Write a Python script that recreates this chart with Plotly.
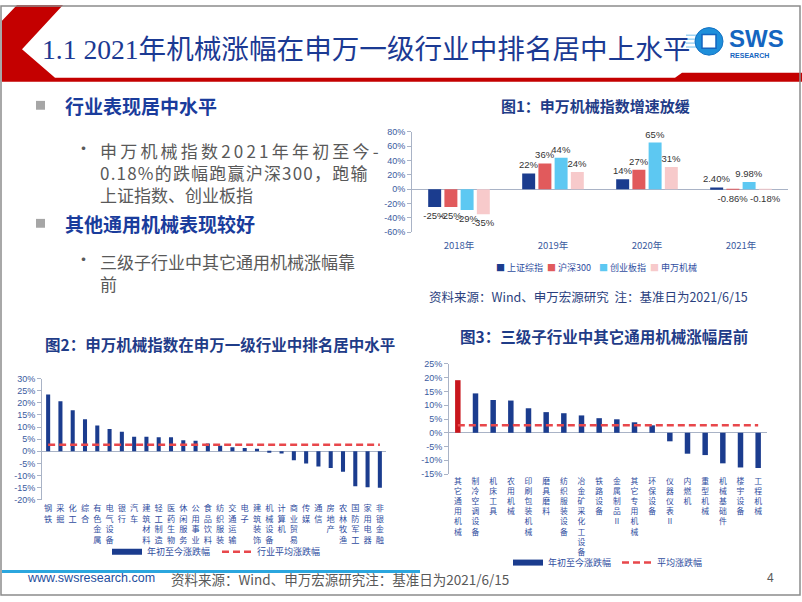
import plotly.graph_objects as go

W, H = 802, 602
def X(v):
    return v / W
def Y(v):
    return 1 - v / H

FONT = "Noto Sans CJK SC, Liberation Sans, Arial, sans-serif"
NUMFONT = "Liberation Sans, Noto Sans CJK SC, Arial, sans-serif"

# ---------------- Figure 1 data ----------------
years = ["2018年", "2019年", "2020年", "2021年"]
series_names = ["上证综指", "沪深300", "创业板指", "申万机械"]
szzz = [-25, 22, 14, 2.40]
hs300 = [-25, 36, 27, -0.86]
cybz = [-29, 44, 65, 9.98]
swjx = [-35, 24, 31, -0.18]
szzz_lbl = ["-25%", "22%", "14%", "2.40%"]
hs300_lbl = ["-25%", "36%", "27%", "-0.86%"]
cybz_lbl = ["-29%", "44%", "65%", "9.98%"]
swjx_lbl = ["-35%", "24%", "31%", "-0.18%"]
ticks1 = [-60, -40, -20, 0, 20, 40, 60, 80]

# ---------------- Figure 2 data ----------------
industries = ["钢铁", "采掘", "化工", "综合", "有色金属", "电气设备", "银行", "汽车",
              "建筑材料", "轻工制造", "医药生物", "休闲服务", "公用事业", "食品饮料",
              "纺织服装", "交通运输", "电子", "建筑装饰", "机械设备", "计算机",
              "商业贸易", "传媒", "通信", "房地产", "农林牧渔", "国防军工", "家用电器", "非银金融"]
ind_change = [23.5, 20.7, 17.0, 13.2, 10.6, 9.2, 8.1, 6.0,
              6.0, 5.8, 5.8, 4.6, 4.3, 3.2,
              2.3, 1.7, 1.4, 1.0, -0.18, -0.9,
              -3.7, -5.1, -6.3, -6.9, -8.5, -14.5, -14.9, -15.1]
ind_avg = 2.7
ticks2 = [-20, -15, -10, -5, 0, 5, 10, 15, 20, 25, 30]

# ---------------- Figure 3 data ----------------
subinds = ["其它通用机械", "制冷空调设备", "机床工具", "农用机械", "印刷包装机械", "磨具磨料",
           "纺织服装设备", "冶金矿采化工设备", "铁路设备", "金属制品Ⅱ", "其它专用机械", "环保设备",
           "仪器仪表Ⅱ", "内燃机", "重型机械", "机械基础件", "楼宇设备", "工程机械"]
sub_change = [19.1, 14.3, 11.9, 11.7, 8.9, 7.5,
              7.1, 6.3, 5.3, 4.9, 3.8, 2.7,
              -3.1, -7.6, -8.1, -11.1, -12.6, -12.8]
sub_avg = 2.7
ticks3 = [-15, -10, -5, 0, 5, 10, 15, 20, 25]

NAVY = "#1B3C8E"
RED_BAR = "#C8161D"
AVG_RED = "#E8474B"
TICKBLUE = "#3B5BA0"
LABELBLUE = "#2F4DA0"
AXIS = "#A9B3C6"
TITLEBLUE = "#1F3C88"

fig = go.Figure()

# ---- Figure 1 bars
c1 = [NAVY, "#E15A5C", "#5DC8F2", "#F7CACB"]
for name, vals, lbls, col in zip(series_names, [szzz, hs300, cybz, swjx],
                                 [szzz_lbl, hs300_lbl, cybz_lbl, swjx_lbl], c1):
    fig.add_trace(go.Bar(
        x=years, y=vals, name=name, text=lbls, textposition="outside",
        textfont=dict(size=9.5, color="#333333", family=NUMFONT),
        constraintext="none", cliponaxis=False,
        marker=dict(color=col, line=dict(width=0)),
        xaxis="x", yaxis="y", showlegend=False, hoverinfo="x+y"))

# ---- Figure 2
fig.add_trace(go.Bar(x=industries, y=ind_change, width=0.33, marker=dict(color=NAVY, line=dict(width=0)),
                     xaxis="x2", yaxis="y2", showlegend=False, name="年初至今涨跌幅"))
fig.add_trace(go.Scatter(x=industries, y=[ind_avg] * len(industries), mode="lines",
                         line=dict(color=AVG_RED, width=2.5, dash="7px,4px"),
                         xaxis="x2", yaxis="y2", name="行业平均涨跌幅", legend="legend2"))
fig.add_trace(go.Scatter(x=[None], y=[None], mode="lines", line=dict(color=NAVY, width=6),
                         xaxis="x2", yaxis="y2", name="年初至今涨跌幅", legend="legend"))

# ---- Figure 3
colors3 = [RED_BAR] + [NAVY] * (len(subinds) - 1)
fig.add_trace(go.Bar(x=subinds, y=sub_change, width=0.31, marker=dict(color=colors3, line=dict(width=0)),
                     xaxis="x3", yaxis="y3", showlegend=False, name="年初至今涨跌幅"))
fig.add_trace(go.Scatter(x=subinds, y=[sub_avg] * len(subinds), mode="lines",
                         line=dict(color=AVG_RED, width=2.5, dash="7px,4px"),
                         xaxis="x3", yaxis="y3", name="平均涨跌幅", legend="legend4"))
fig.add_trace(go.Scatter(x=[None], y=[None], mode="lines", line=dict(color=NAVY, width=6),
                         xaxis="x3", yaxis="y3", name="年初至今涨跌幅", legend="legend3"))

yax_common = dict(showgrid=False, zeroline=True, zerolinecolor=AXIS, zerolinewidth=1,
                  showline=True, linecolor=AXIS, linewidth=1, ticks="outside", ticklen=4,
                  tickcolor=AXIS, tickfont=dict(size=9, color=TICKBLUE, family=NUMFONT))
xax_common = dict(type="category", showgrid=False, zeroline=False, showline=False, ticks="")

legend_common = dict(xanchor="left", yanchor="middle", bgcolor="rgba(0,0,0,0)", borderwidth=0,
                     font=dict(size=9, color=LABELBLUE, family=FONT), itemwidth=30,
                     orientation="h", itemclick=False, itemdoubleclick=False)

def leg(text_x, y):
    d = dict(legend_common)
    d.update(x=X(text_x - 40), y=Y(y))
    return d

def vert(names):
    return ["<br>".join(list(n)) for n in names]

fig.update_layout(
    width=W, height=H, margin=dict(l=0, r=0, t=0, b=0),
    paper_bgcolor="white", plot_bgcolor="white",
    barmode="group", bargap=0.31, bargroupgap=0.2,
    font=dict(family=FONT),
    showlegend=True,
    xaxis=dict(domain=[X(412), X(788)], anchor="y", tickfont=dict(size=9.5, color=TICKBLUE, family=FONT),
               ticklabelstandoff=6, **xax_common),
    yaxis=dict(domain=[Y(231), Y(129)], anchor="x", range=[-60, 80], tickvals=ticks1,
               ticktext=[f"{v}%" for v in ticks1], **yax_common),
    xaxis2=dict(domain=[X(42), X(386)], anchor="y2", tickvals=industries, ticktext=vert(industries),
                tickfont=dict(size=8.2, color=LABELBLUE, family=FONT), tickangle=0,
                ticklabelstandoff=2, **xax_common),
    yaxis2=dict(domain=[Y(503), Y(380)], anchor="x2", range=[-20, 30], tickvals=ticks2,
                ticktext=[f"{v}%" for v in ticks2], **yax_common),
    xaxis3=dict(domain=[X(449), X(767)], anchor="y3", tickvals=subinds, ticktext=vert(subinds),
                tickfont=dict(size=7.8, color=LABELBLUE, family=FONT), tickangle=0,
                ticklabelstandoff=1, **xax_common),
    yaxis3=dict(domain=[Y(477), Y(365)], anchor="x3", range=[-15, 25], tickvals=ticks3,
                ticktext=[f"{v}%" for v in ticks3], **yax_common),
    legend=leg(147, 556),
    legend2=leg(257, 556),
    legend3=leg(548, 567),
    legend4=leg(657, 567),
)

ann = []
def text(x, y, s, size, color, bold=False, anchor="left", family=FONT, yanchor="middle"):
    ann.append(dict(x=X(x), y=Y(y), xref="paper", yref="paper",
                    text=f"<b>{s}</b>" if bold else s, showarrow=False,
                    xanchor=anchor, yanchor=yanchor, align="left",
                    font=dict(size=size, color=color, family=family)))

# Header title
text(40, 45, "1.1 2021年机械涨幅在申万一级行业中排名居中上水平", 27.6, "#1B3A93",
     family="Liberation Serif, Noto Sans CJK SC, serif")
# Logo text
text(727, 34, "SWS", 24, "#1565C0", bold=True, family="Liberation Sans, Arial, sans-serif")
text(728, 51, "RESEARCH", 7, "#1565C0", bold=True, family="Liberation Sans, Arial, sans-serif")

# Left text block
HEAD = "#1A3C9C"
BODY = "#595959"
text(63, 102, "行业表现居中水平", 19, HEAD, bold=True)
text(73, 145, "•", 17, BODY)
text(98, 133, '<span style="letter-spacing:3.2px">申万机械指数2021年年初至今-</span><br>'
              '<span style="letter-spacing:1.2px">0.18%的跌幅跑赢沪深300，跑输</span><br>'
              '上证指数、创业板指', 17, BODY, yanchor="top")
text(63, 222, "其他通用机械表现较好", 19, HEAD, bold=True)
text(73, 258, "•", 17, BODY)
text(98, 246, "三级子行业中其它通用机械涨幅靠<br>前", 17, BODY, yanchor="top")

# Chart titles
text(595, 102, "图1：申万机械指数增速放缓", 15, TITLEBLUE, bold=True, anchor="center")
text(220, 345, "图2：申万机械指数在申万一级行业中排名居中水平", 15.5, TITLEBLUE, bold=True, anchor="center")
text(604, 337, "图3：三级子行业中其它通用机械涨幅居前", 15.5, TITLEBLUE, bold=True, anchor="center")

# Figure 1 legend (coloured squares + names)
leg1_x = [494, 545, 597, 648]
for name, col, lx in zip(series_names, c1, leg1_x):
    text(lx, 267, f'<span style="color:{col}">■</span> {name}', 9, LABELBLUE)

# Figure 1 source
text(588, 296, "资料来源：Wind、申万宏源研究  注：基准日为2021/6/15", 12.5, "#2B3F7E", anchor="center")

# Footer
text(25, 583, "www.swsresearch.com", 12.5, "#1F4E9E", family="Liberation Sans Narrow, Liberation Sans, Arial")
text(169, 584, "资料来源：Wind、申万宏源研究注：基准日为2021/6/15", 13.5, "#595959")
text(765, 583, "4", 12, "#595959", family=NUMFONT)

fig.update_layout(annotations=ann)

# Shapes: frame, header band, logo, footer line
def P(x, y):
    return f"{X(x)},{Y(y)}"

shapes = []
shapes.append(dict(type="path", xref="paper", yref="paper",
                   path=("M " + " L ".join(P(a, b) for a, b in
                         [(17, 0), (63, 0), (22, 45), (55, 74), (675, 74), (682, 69),
                          (802, 69), (802, 78), (2, 78), (2, 16)]) + " Z"),
                   fillcolor="#C40000", line=dict(width=0), layer="below"))
shapes.append(dict(type="rect", xref="paper", yref="paper", x0=X(1), x1=X(800), y0=Y(600), y1=Y(1),
                   line=dict(color="#8C8C8C", width=1.5), fillcolor="rgba(0,0,0,0)", layer="below"))
# logo
for yy in [30, 34, 38, 42]:
    shapes.append(dict(type="rect", xref="paper", yref="paper", x0=X(686), x1=X(700), y0=Y(yy + 1.5), y1=Y(yy),
                       fillcolor="#9FD3F2", line=dict(width=0)))
shapes.append(dict(type="circle", xref="paper", yref="paper", x0=X(695), x1=X(723), y0=Y(51), y1=Y(23),
                   fillcolor="#1E8FDA", line=dict(color="#1572C4", width=1)))
shapes.append(dict(type="rect", xref="paper", yref="paper", x0=X(702), x1=X(716), y0=Y(44), y1=Y(30),
                   fillcolor="white", line=dict(color="#1565C0", width=1.5)))
# gray squares
for yy in [102, 222]:
    shapes.append(dict(type="rect", xref="paper", yref="paper", x0=X(36), x1=X(45), y0=Y(yy + 4.5), y1=Y(yy - 4.5),
                       fillcolor="#A6A6A6", line=dict(width=0)))
# footer line
shapes.append(dict(type="line", xref="paper", yref="paper", x0=X(2), x1=X(420), y0=Y(576), y1=Y(576),
                   line=dict(color="#2BA6DE", width=3)))
fig.update_layout(shapes=shapes)

fig.write_html("out.html", config={"displayModeBar": False},
               post_script="document.body.style.margin='0';document.body.style.overflow='hidden';")
